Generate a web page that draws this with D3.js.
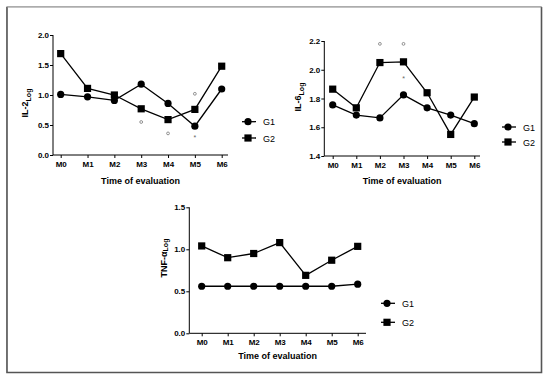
<!DOCTYPE html>
<html><head><meta charset="utf-8">
<script src="https://cdn.jsdelivr.net/npm/d3@7"></script>
<style>body{margin:0;background:#fff}svg{display:block;font-family:"Liberation Sans",Arial,sans-serif}</style>
</head><body>
<svg id="c" width="550" height="380"></svg>
<script>
const categories = ["M0","M1","M2","M3","M4","M5","M6"];
const groups = ["G1","G2"];
const il2G1 = [1.01,0.97,0.91,1.18,0.86,0.48,1.10];
const il2G2 = [1.69,1.11,1.00,0.77,0.59,0.76,1.48];
const il6G1 = [1.755,1.685,1.665,1.825,1.735,1.685,1.625];
const il6G2 = [1.865,1.735,2.05,2.055,1.84,1.55,1.81];
const tnfG1 = [0.56,0.56,0.56,0.56,0.56,0.56,0.585];
const tnfG2 = [1.04,0.90,0.95,1.08,0.69,0.87,1.035];
const il2Ticks = [0,0.5,1.0,1.5,2.0];
const il6Ticks = [1.4,1.6,1.8,2.0,2.2];
const tnfTicks = [0,0.5,1.0,1.5];
// significance marks: [category, value, symbol]
const il2Marks = [["M3",0.55,"°"],["M4",0.36,"°"],["M5",1.02,"°"],["M5",0.30,"*"]];
const il6Marks = [["M2",2.18,"°"],["M3",2.18,"°"],["M3",1.94,"*"]];
const tnfMarks = [];

const svg = d3.select("#c");
// frame
svg.append("rect").attr("x",6.5).attr("y",6.5).attr("width",535).attr("height",366)
  .attr("fill","none").attr("stroke","#d0d0d0").attr("stroke-width",1);
svg.append("path").attr("d","M7,7V372.5H541.5V7").attr("fill","none").attr("stroke","#555").attr("stroke-width",1.6);
svg.append("path").attr("d","M7,7H541.5").attr("fill","none").attr("stroke","#888").attr("stroke-width",1);

function panel(o){
  const g = svg.append("g");
  const x = d3.scalePoint().domain(categories).range([o.x0,o.x1]);
  const y = d3.scaleLinear().domain(o.dom).range([o.y0,o.y1]);
  const ya = d3.axisLeft(y).tickValues(o.ticks).tickFormat(d3.format(".1f")).tickSize(3).tickSizeOuter(0);
  const gy = g.append("g").attr("transform",`translate(${o.ax},0)`).call(ya);
  gy.select(".domain").attr("d",`M0,${o.y0}V${o.y1}`);
  const xa = d3.axisBottom(x).tickSize(3).tickSizeOuter(0);
  const gx = g.append("g").attr("transform",`translate(0,${o.y0})`).call(xa);
  gx.select(".domain").attr("d",`M${o.ax},0H${o.xe}`);
  g.selectAll(".tick text").attr("font-weight","bold").attr("font-size",8).attr("fill","#000");
  gy.selectAll(".tick text").attr("x",-4);
  gx.selectAll(".tick text").attr("y",6);
  g.selectAll(".domain,.tick line").attr("stroke","#000").attr("stroke-width",1);
  // x title
  g.append("text").attr("x",(o.ax+o.xe)/2).attr("y",o.titleY).attr("text-anchor","middle")
    .attr("font-weight","bold").attr("font-size",9).text("Time of evaluation");
  // y title
  const yt = g.append("text").attr("transform",`translate(${o.ylx},${o.yly}) rotate(-90)`)
    .attr("text-anchor","middle").attr("font-weight","bold").attr("font-size",9);
  yt.append("tspan").text(o.ylab);
  yt.append("tspan").attr("font-size",7).attr("dy",o.subDy).text("Log");
  const line = d3.line().x((d,i)=>x(categories[i])).y(d=>y(d));
  [o.g1,o.g2].forEach((s,k)=>{
    g.append("path").attr("d",line(s)).attr("fill","none").attr("stroke","#000").attr("stroke-width",1.3);
    s.forEach((v,i)=>{
      if(k===0) g.append("circle").attr("cx",x(categories[i])).attr("cy",y(v)).attr("r",3.6).attr("fill","#000");
      else g.append("rect").attr("x",x(categories[i])-3.6).attr("y",y(v)-3.6).attr("width",7.2).attr("height",7.2).attr("fill","#000");
    });
  });
  o.marks.forEach(m=>{
    if(m[2]==="°") g.append("circle").attr("cx",x(m[0])).attr("cy",y(m[1])).attr("r",1.4).attr("fill","none").attr("stroke","#777").attr("stroke-width",0.8);
    else g.append("text").attr("x",x(m[0])).attr("y",y(m[1])+3).attr("text-anchor","middle").attr("font-size",7).attr("fill","#666").text("*");
  });
  // legend
  groups.forEach((gname,k)=>{
    const ly = o.legY[k];
    g.append("line").attr("x1",o.legX).attr("x2",o.legX+14).attr("y1",ly).attr("y2",ly).attr("stroke","#000").attr("stroke-width",1.3);
    const cx = o.legX+6;
    if(k===0) g.append("circle").attr("cx",cx).attr("cy",ly).attr("r",3.6).attr("fill","#000");
    else g.append("rect").attr("x",cx-3.6).attr("y",ly-3.6).attr("width",7.2).attr("height",7.2).attr("fill","#000");
    g.append("text").attr("x",o.legX+21).attr("y",ly+3.5).attr("font-size",9).attr("fill","#000").text(gname);
  });
}

panel({x0:60.7,x1:221.7,ax:53,xe:228,y0:155,y1:35,dom:[0,2],ticks:il2Ticks,g1:il2G1,g2:il2G2,marks:il2Marks,
  titleY:184,ylx:28,yly:103,ylab:"IL-2",subDy:3,legX:242,legY:[121.7,138]});
panel({x0:332.7,x1:474.3,ax:324.3,xe:480,y0:156,y1:41,dom:[1.4,2.2],ticks:il6Ticks,g1:il6G1,g2:il6G2,marks:il6Marks,
  titleY:184,ylx:301,yly:97,ylab:"IL-6",subDy:3,legX:502,legY:[127,142]});
panel({x0:201.7,x1:357.7,ax:189.3,xe:366,y0:333.3,y1:207.3,dom:[0,1.5],ticks:tnfTicks,g1:tnfG1,g2:tnfG2,marks:tnfMarks,
  titleY:359,ylx:167,yly:258,ylab:"TNF-α",subDy:1,legX:381,legY:[303.3,322.3]});
</script>
</body></html>
